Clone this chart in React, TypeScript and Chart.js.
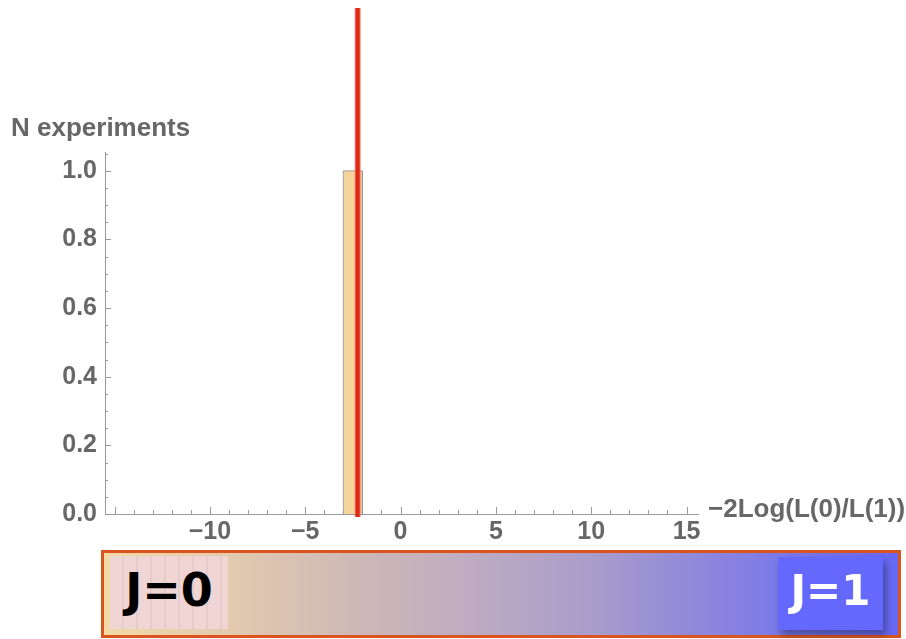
import { useEffect, useRef } from "react";
import { Chart, registerables } from "chart.js";

Chart.register(...registerables);

// Histogram of the test statistic over simulated experiments
const binEdges = [-3, -2];
const binCounts = [1];
// Value of the statistic observed in data
const observedValue = -2.25;

// Axis ranges and labelled ticks
const xRange = [-15.5, 15.6];
const yRange = [0, 1.055];
const xTickValues = [-10, -5, 0, 5, 10, 15];
const yTickValues = [0, 0.2, 0.4, 0.6, 0.8, 1.0];

const yAxisTitle = "N experiments";
const xAxisTitle = "\u22122Log(L(0)/L(1))";
const hypothesisLabels = ["J=0", "J=1"];

const TEXT_GREY = "#676767";
const AXIS_GREY = "#9a9a9a";
const FONT = "'Liberation Sans', Arial, sans-serif";

function histogramOutline(edges: number[], counts: number[]) {
  const pts: { x: number; y: number }[] = [];
  counts.forEach((c, i) => {
    pts.push({ x: edges[i], y: 0 });
    pts.push({ x: edges[i], y: c });
    pts.push({ x: edges[i + 1], y: c });
    pts.push({ x: edges[i + 1], y: 0 });
  });
  return pts;
}

const fmt = (v: number, digits: number) => {
  const s = Math.abs(v).toFixed(digits);
  return v < 0 ? "\u2212" + s : s;
};

// Minor/major tick marks drawn inward, Mathematica-style
const tickMarks = {
  id: "tickMarks",
  beforeDatasetsDraw(chart: any) {
    const { ctx, chartArea, scales } = chart;
    const xs = scales.x;
    const ys = scales.y;
    ctx.save();
    ctx.strokeStyle = AXIS_GREY;
    ctx.lineWidth = 1;
    for (let v = -15; v <= 15; v++) {
      const px = Math.round(xs.getPixelForValue(v)) + 0.5;
      const len = v % 5 === 0 ? 7 : 4;
      ctx.beginPath();
      ctx.moveTo(px, chartArea.bottom);
      ctx.lineTo(px, chartArea.bottom - len);
      ctx.stroke();
    }
    for (let k = 0; k <= 21; k++) {
      const v = k * 0.05;
      const py = Math.round(ys.getPixelForValue(v)) + 0.5;
      const len = k % 4 === 0 ? 6 : 3;
      ctx.beginPath();
      ctx.moveTo(chartArea.left, py);
      ctx.lineTo(chartArea.left + len, py);
      ctx.stroke();
    }
    ctx.restore();
  },
};

// Vertical marker at the observed value, plus the axis titles
const observedMarker = {
  id: "observedMarker",
  afterDatasetsDraw(chart: any) {
    const { ctx, chartArea, scales } = chart;
    const px = scales.x.getPixelForValue(observedValue);
    ctx.save();
    ctx.strokeStyle = "rgba(240,120,110,0.9)";
    ctx.lineWidth = 6;
    ctx.beginPath();
    ctx.moveTo(px, 8);
    ctx.lineTo(px, chartArea.bottom + 3);
    ctx.stroke();
    ctx.strokeStyle = "#dc2a12";
    ctx.lineWidth = 4;
    ctx.beginPath();
    ctx.moveTo(px, 8);
    ctx.lineTo(px, chartArea.bottom + 3);
    ctx.stroke();
    ctx.restore();
  },
  afterDraw(chart: any) {
    const { ctx, chartArea } = chart;
    ctx.save();
    ctx.fillStyle = TEXT_GREY;
    ctx.font = `bold 26px ${FONT}`;
    ctx.textBaseline = "alphabetic";
    ctx.textAlign = "left";
    ctx.fillText(yAxisTitle, 11, 136);
    ctx.fillText(xAxisTitle, chartArea.right + 10, chartArea.bottom + 3);
    ctx.restore();
  },
};

function HistogramChart() {
  const ref = useRef<HTMLCanvasElement | null>(null);
  useEffect(() => {
    if (!ref.current) return;
    const chart = new Chart(ref.current, {
      type: "line",
      data: {
        datasets: [
          {
            data: histogramOutline(binEdges, binCounts),
            borderColor: "rgba(150,150,150,0.85)",
            borderWidth: 1,
            backgroundColor: "rgb(245,212,156)",
            fill: "origin",
            pointRadius: 0,
            tension: 0,
          },
        ],
      },
      options: {
        animation: false,
        responsive: true,
        maintainAspectRatio: false,
        layout: { padding: { left: 0, top: 152, right: 208, bottom: 85 } },
        plugins: { legend: { display: false }, tooltip: { enabled: false } },
        scales: {
          x: {
            type: "linear",
            min: xRange[0],
            max: xRange[1],
            grid: { display: false, drawTicks: false },
            border: { display: true, color: AXIS_GREY, width: 1 },
            afterBuildTicks: (s: any) => {
              s.ticks = xTickValues.map((v) => ({ value: v }));
            },
            afterFit: (s: any) => {
              s.height = 40;
            },
            ticks: {
              padding: 3,
              color: TEXT_GREY,
              font: { family: FONT, size: 25, weight: "bold", lineHeight: 1.2 },
              maxRotation: 0,
              autoSkip: false,
              callback: (v: any) => fmt(Number(v), 0),
            },
          },
          y: {
            type: "linear",
            min: yRange[0],
            max: yRange[1],
            grid: { display: false, drawTicks: false },
            border: { display: true, color: AXIS_GREY, width: 1 },
            afterBuildTicks: (s: any) => {
              s.ticks = yTickValues.map((v) => ({ value: v }));
            },
            afterFit: (s: any) => {
              s.width = 105;
            },
            ticks: {
              padding: 8,
              color: TEXT_GREY,
              font: { family: FONT, size: 25, weight: "bold" },
              autoSkip: false,
              callback: (v: any) => fmt(Number(v), 1),
            },
          },
        },
      } as any,
      plugins: [tickMarks, observedMarker],
    });
    return () => chart.destroy();
  }, []);
  return <canvas ref={ref} />;
}

function HypothesisBar() {
  const labelFont = "'DejaVu Sans', sans-serif";
  return (
    <>
      <div
        style={{
          position: "absolute",
          left: 101,
          top: 550,
          width: 800,
          height: 88,
          boxSizing: "border-box",
          border: "3px solid #d9541e",
          background:
            "linear-gradient(to right, #f3d9a6 0%, #e3c9ae 16%, #cdb8b7 32%, #bcaac2 48%, #a89ccc 62%, #8d86dc 76%, #7575eb 88%, #6767f5 100%)",
        }}
      />
      <div
        style={{
          position: "absolute",
          left: 110,
          top: 556,
          width: 118,
          height: 73,
          background:
            "repeating-linear-gradient(90deg, #efd5d3 0px, #efd5d3 12px, #e6cbca 12px, #e6cbca 14px)",
          display: "flex",
          alignItems: "center",
          justifyContent: "center",
          color: "#000",
          fontFamily: labelFont,
          fontWeight: "bold",
          fontSize: 46,
          lineHeight: 1,
          paddingBottom: 6,
          boxSizing: "border-box",
        }}
      >
        {hypothesisLabels[0]}
      </div>
      <div
        style={{
          position: "absolute",
          left: 778,
          top: 557,
          width: 105,
          height: 73,
          background: "#6468fc",
          boxShadow: "3px 5px 7px rgba(0,0,0,0.35)",
          display: "flex",
          alignItems: "center",
          justifyContent: "center",
          color: "#fff",
          fontFamily: labelFont,
          fontWeight: "bold",
          fontSize: 42,
          lineHeight: 1,
          paddingBottom: 6,
          boxSizing: "border-box",
        }}
      >
        {hypothesisLabels[1]}
      </div>
    </>
  );
}

export default function App() {
  return (
    <div
      style={{
        position: "absolute",
        left: 0,
        top: 0,
        width: 906,
        height: 639,
        background: "#fff",
        overflow: "hidden",
      }}
    >
      <div style={{ position: "absolute", left: 0, top: 0, width: 906, height: 639 }}>
        <HistogramChart />
      </div>
      <HypothesisBar />
    </div>
  );
}
